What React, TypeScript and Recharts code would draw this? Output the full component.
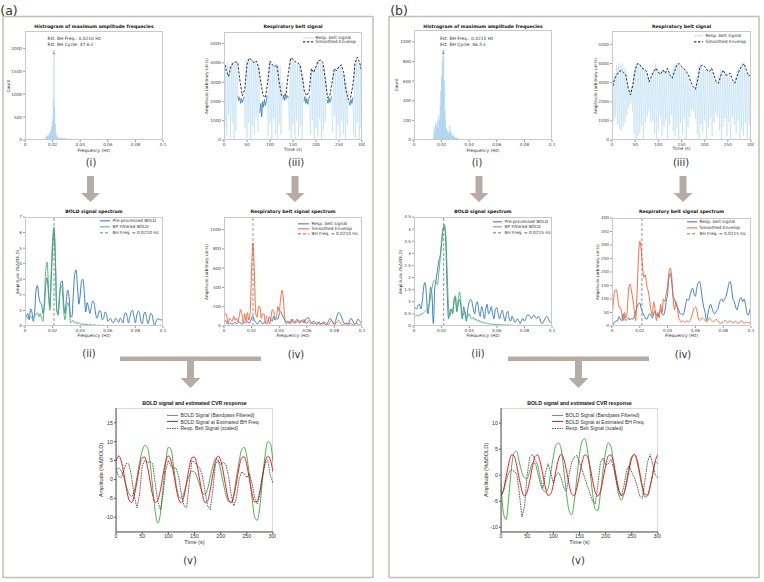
import React from "react";
import { LineChart, Line, BarChart, Bar, XAxis, YAxis, ReferenceLine } from "recharts";

const FONT = "'DejaVu Sans', Verdana, sans-serif";
const MFONT = "'Liberation Sans', Arial, sans-serif";

// ---------- shared ticks / grids ----------
const freqTicks = [0, 0.02, 0.04, 0.06, 0.08, 0.1];
const timeTicks = [0, 50, 100, 150, 200, 250, 300];
const beltTicks = [0, 1000, 2000, 3000, 4000, 5000];
const specFreq = Array.from({ length: 101 }, (_, i) => i / 1000);
const beltTime = Array.from({ length: 151 }, (_, i) => i * 2);
const envTime = Array.from({ length: 61 }, (_, i) => i * 5);

// ---------- (a) histogram ----------
const histBinsA = [0.015, 0.0155, 0.016, 0.0165, 0.017, 0.0175, 0.018, 0.0185, 0.019, 0.0195, 0.02, 0.0205, 0.021, 0.0215, 0.022, 0.0225, 0.023, 0.0235, 0.024, 0.0245, 0.025, 0.0255, 0.026, 0.0265, 0.027, 0.0275, 0.028, 0.0285, 0.029, 0.0295, 0.03, 0.0305, 0.031, 0.0315, 0.032];
const histCountsA = [30, 90, 60, 100, 80, 130, 150, 200, 230, 300, 450, 900, 1870, 720, 350, 150, 80, 60, 50, 40, 35, 40, 30, 45, 35, 30, 40, 30, 35, 25, 30, 25, 20, 15, 10];

// ---------- (b) histogram ----------
const histBinsB = [0.0145, 0.015, 0.0155, 0.016, 0.0165, 0.017, 0.0175, 0.018, 0.0185, 0.019, 0.0195, 0.02, 0.0205, 0.021, 0.0215, 0.022, 0.0225, 0.023, 0.0235, 0.024, 0.0245, 0.025, 0.0255, 0.026, 0.0265, 0.027, 0.0275, 0.028, 0.0285, 0.029, 0.0295, 0.03, 0.0305, 0.031, 0.0315, 0.032];
const histCountsB = [130, 60, 180, 100, 150, 200, 120, 250, 200, 350, 500, 650, 800, 910, 850, 600, 300, 200, 120, 80, 100, 60, 80, 150, 90, 70, 50, 40, 50, 35, 25, 20, 30, 15, 20, 10];

// ---------- respiratory belt signals (2 s samples) ----------
const beltA = [
  4000, 700, 3900, 200, 4050, 1300, 3850, 100, 4000, 900, 4050, 0, 3950, 500, 4100,
  2300, 2050, 2200, 1900, 2150, 1950, 2100, 2250,
  600, 4150, 100, 4250, 900, 4050, 0, 4100, 700, 4150, 300, 4050, 1200, 3950, 400, 3800,
  1400, 1900, 1200, 2000, 1700, 2100, 1800, 2000, 2300,
  200, 4100, 900, 3950, 0, 3900, 1100, 4000, 300, 3850, 100, 3900, 800, 3850, 300, 3000,
  2100, 2300, 2050, 2400, 2150, 2300, 2200,
  500, 4250, 100, 4200, 800, 4050, 0, 4000, 1000, 3950, 200, 3900, 700, 3800, 0, 3300,
  2000, 2250, 1900, 2150, 1850, 2100, 2300,
  300, 3700, 1000, 3500, 0, 3800, 600, 4100, 200, 4150, 1100, 4000, 0, 3950, 500, 3800, 900, 3200,
  2100, 1900, 2200, 1950, 2100, 2250,
  400, 3700, 1200, 3600, 0, 3800, 700, 3900, 100, 3850, 1000, 3500, 300, 3400, 0, 3000, 800, 2600,
  2000, 1800, 2100, 1900, 2200,
  300, 4000, 100, 4300, 900, 4050, 0, 3950, 600, 3500,
];
const holdsA: [number, number][] = [[30, 44], [78, 94], [128, 140], [174, 186], [224, 234], [272, 280]];
const beltB = [
  1500, 3400, 1000, 3500, 1200, 3900, 800, 4000, 600, 3900,
  500, 4000, 700, 3800, 900, 3700, 1300, 2900, 1700, 2500,
  1900, 2800, 1500, 3500, 300, 4000, 0, 4000, 200, 3950,
  400, 3900, 800, 3800, 0, 3700, 900, 3650, 1200, 3300,
  1500, 3100, 900, 3500, 1000, 3700, 300, 4000, 0, 3800,
  500, 3600, 1200, 3500, 200, 3700, 700, 3600, 1000, 3800,
  0, 3500, 800, 3300, 1300, 3700, 500, 3950, 200, 4000,
  600, 4050, 0, 3900, 900, 3800, 300, 3700, 1100, 3600,
  0, 3450, 700, 3200, 1200, 2900, 1600, 2700, 1500, 2650,
  1100, 3300, 300, 3900, 0, 4000, 800, 3900, 400, 3700,
  1000, 3650, 0, 3700, 600, 3600, 1200, 3800, 200, 3500,
  900, 3100, 1400, 3000, 1200, 3400, 500, 3700, 0, 3500,
  700, 3450, 1100, 3500, 200, 3400, 900, 3300, 0, 3100,
  1200, 3000, 800, 3300, 300, 3700, 1000, 3900, 0, 4000,
  500, 4050, 200, 3800, 900, 3500, 0, 3400, 800, 3300, 1200,
];
const envA = [4100, 3600, 3300, 3800, 4000, 4050, 4000, 3000, 2300, 2600, 3900, 4250, 4150, 4000, 4100, 3800, 3000, 2300, 2200, 3000, 4100, 3900, 3800, 3900, 3000, 2300, 2300, 2400, 3500, 4250, 4200, 4050, 4000, 3900, 3300, 2500, 2300, 2500, 3700, 3500, 3800, 4100, 4150, 4000, 3200, 2200, 2300, 3000, 3700, 3600, 3800, 3900, 3500, 2600, 2100, 2200, 2800, 4000, 4300, 4000, 3500];
const envB = [2620, 3140, 3400, 3580, 3630, 3520, 3400, 2700, 2360, 2880, 3660, 4000, 3950, 3750, 3700, 3580, 3050, 3320, 3580, 3750, 3520, 3450, 3660, 3490, 3750, 3400, 3230, 3580, 3920, 4000, 3840, 3750, 3580, 3400, 3050, 2790, 2650, 3140, 3840, 3920, 3840, 3660, 3580, 3750, 3400, 3050, 2970, 3400, 3660, 3400, 3400, 3490, 3140, 2970, 3320, 3660, 3840, 4000, 3660, 3350, 3400];

// ---------- BOLD spectra (0.001 Hz steps) ----------
const boldPreA = [
  0.9, 0.6, 0.8, 0.4, 1.1, 0.9, 0.3, 0.9, 2.3, 2.6,
  1.9, 1.5, 1.4, 0.8, 1.2, 2.6, 3.1, 2.1, 1.2, 3.0,
  5.0, 6.1, 4.2, 1.0, 0.7, 1.8, 2.8, 2.9, 1.5, 0.8,
  1.7, 2.3, 1.8, 0.6, 0.6, 2.0, 3.3, 3.6, 2.6, 1.4,
  2.0, 2.9, 3.0, 2.1, 0.9, 1.5, 1.2, 0.8, 1.2, 1.6,
  1.5, 0.9, 0.5, 0.7, 1.0, 0.9, 0.4, 0.5, 0.9, 0.8,
  0.3, 0.4, 0.5, 0.3, 0.2, 0.4, 0.5, 0.3, 0.25, 0.5,
  0.4, 0.2, 0.7, 0.85, 0.6, 0.2, 0.6, 0.9, 1.0, 0.6,
  0.2, 0.7, 0.95, 0.8, 0.3, 0.15, 0.7, 0.9, 0.6, 0.15,
  0.4, 0.8, 0.75, 0.3, 0.05, 0.3, 0.45, 0.45, 0.4, 0.4,
  0.45,
];
const boldBpA = [
  0.5, 0.5, 0.55, 0.5, 0.6, 0.5, 0.55, 0.6, 0.75, 0.85,
  0.6, 0.8, 0.5, 0.3, 1.6, 3.5, 4.1, 2.6, 1.0, 3.5,
  5.5, 6.35, 4.6, 1.0, 0.9, 2.0, 2.6, 2.4, 1.0, 0.4,
  1.1, 1.5, 1.2, 0.2, 0.3, 0.35, 0.2, 0.25, 0.15, 0.2,
  0.15, 0.1, 0.15, 0.08, 0.12, 0.1, 0.05, 0.1, 0.08, 0.04,
  0.08, 0.06, 0.03, 0.06, 0.05, 0.03, 0.05, 0.04, 0.02, 0.04,
  0.03, 0.02, 0.04, 0.03, 0.02, 0.03, 0.02, 0.01, 0.03, 0.02,
  0.01, 0.02, 0.02, 0.01, 0.02, 0.01, 0.01, 0.02, 0.01, 0.01,
  0.02, 0.01, 0.01, 0.02, 0.01, 0.01, 0.01, 0.02, 0.01, 0.01,
  0.01, 0.01, 0.02, 0.01, 0.01, 0.01, 0.01, 0.01, 0.01, 0.01,
  0.01,
];
const boldPreB = [
  0.6, 0.75, 0.7, 0.85, 0.9, 0.7, 1.0, 1.6, 1.8, 1.3,
  0.5, 0.9, 1.6, 1.3, 0.1, 1.5, 1.9, 2.3, 2.7, 2.9,
  3.4, 4.0, 4.1, 3.5, 1.5, 0.3, 0.6, 0.7, 0.5, 1.0,
  1.2, 0.6, 0.9, 1.1, 0.8, 0.3, 0.8, 0.5, 0.2, 0.7,
  1.0, 1.1, 1.0, 0.7, 0.5, 0.9, 1.0, 0.6, 0.4, 0.8,
  0.6, 0.3, 0.7, 0.9, 0.5, 0.6, 0.8, 0.5, 0.3, 0.7,
  0.75, 0.5, 0.3, 0.5, 0.65, 0.4, 0.2, 0.5, 0.6, 0.3,
  0.2, 0.4, 0.3, 0.15, 0.2, 0.3, 0.2, 0.1, 0.25, 0.3,
  0.2, 0.3, 0.45, 0.45, 0.4, 0.3, 0.4, 0.45, 0.35, 0.3,
  0.4, 0.35, 0.15, 0.1, 0.2, 0.3, 0.4, 0.35, 0.2, 0.15,
  0.2,
];
const boldBpB = [
  0.45, 0.43, 0.42, 0.43, 0.45, 0.47, 0.5, 0.55, 0.6, 0.65,
  0.75, 0.9, 1.2, 1.55, 1.8, 1.9, 1.8, 1.7, 2.2, 2.8,
  3.5, 4.0, 4.2, 3.8, 2.3, 0.8, 0.4, 0.7, 0.6, 1.1,
  1.25, 0.6, 1.1, 1.4, 1.0, 0.4, 0.5, 0.6, 0.3, 0.4,
  0.5, 0.35, 0.3, 0.35, 0.25, 0.3, 0.2, 0.25, 0.15, 0.2,
  0.12, 0.15, 0.1, 0.12, 0.08, 0.1, 0.07, 0.08, 0.06, 0.07,
  0.05, 0.06, 0.05, 0.04, 0.05, 0.04, 0.04, 0.03, 0.04, 0.03,
  0.03, 0.03, 0.02, 0.03, 0.02, 0.02, 0.02, 0.02, 0.02, 0.02,
  0.02, 0.02, 0.01, 0.02, 0.01, 0.01, 0.01, 0.01, 0.01, 0.01,
  0.01, 0.01, 0.01, 0.01, 0.01, 0.01, 0.01, 0.01, 0.01, 0.01,
  0.01,
];

// ---------- respiratory belt spectra ----------
const respSigA = [
  20, 60, 30, 20, 30, 25, 20, 30, 35, 25,
  30, 40, 30, 20, 30, 40, 30, 50, 30, 40,
  80, 100, 60, 40, 20, 30, 60, 40, 20, 40,
  30, 20, 60, 90, 70, 50, 100, 60, 80, 70,
  120, 150, 120, 90, 60, 40, 50, 30, 40, 70,
  40, 30, 50, 70, 40, 30, 60, 50, 30, 60,
  80, 90, 60, 40, 30, 50, 40, 20, 30, 40,
  20, 30, 40, 20, 10, 30, 60, 80, 60, 40,
  20, 60, 110, 140, 130, 100, 60, 30, 20, 30,
  20, 50, 80, 60, 30, 20, 40, 70, 60, 40,
  50,
];
const respEnvA = [
  50, 130, 100, 30, 80, 60, 50, 100, 60, 80,
  40, 100, 170, 120, 30, 130, 50, 140, 60, 150,
  600, 860, 560, 130, 90, 200, 200, 80, 130, 120,
  30, 100, 90, 20, 80, 170, 150, 80, 100, 200,
  150, 280, 370, 280, 80, 20, 30, 50, 20, 50,
  70, 40, 30, 50, 60, 40, 60, 40, 70, 30,
  30, 50, 40, 20, 40, 20, 30, 20, 40, 20,
  10, 30, 20, 40, 30, 10, 20, 40, 60, 30,
  10, 30, 40, 60, 40, 20, 10, 20, 30, 20,
  10, 20, 30, 15, 10, 20, 30, 20, 10, 20,
  25,
];
const respSigB = [
  0, 8, 15, 20, 18, 35, 25, 20, 45, 30,
  20, 25, 30, 22, 28, 25, 35, 50, 70, 82,
  85, 65, 50, 40, 30, 25, 35, 45, 40, 30,
  45, 55, 40, 35, 50, 60, 45, 40, 55, 90,
  120, 180, 195, 160, 110, 100, 80, 70, 60, 45,
  45, 40, 55, 80, 100, 95, 110, 130, 140, 120,
  110, 140, 160, 165, 140, 100, 70, 50, 20, 45,
  70, 80, 65, 50, 45, 55, 60, 80, 95, 100,
  90, 100, 110, 130, 155, 165, 140, 100, 90, 70,
  60, 80, 100, 105, 90, 100, 80, 50, 40, 55,
  75,
];
const respEnvB = [
  20, 90, 130, 135, 110, 70, 70, 45, 20, 50,
  30, 60, 140, 155, 130, 100, 60, 20, 120, 250,
  315, 280, 220, 180, 190, 150, 130, 100, 60, 40,
  90, 60, 20, 50, 30, 80, 50, 100, 90, 120,
  150, 200, 215, 180, 100, 60, 90, 70, 30, 20,
  15, 20, 15, 15, 20, 15, 20, 30, 50, 65,
  70, 60, 30, 20, 25, 30, 25, 20, 15, 20,
  30, 25, 20, 15, 20, 25, 20, 15, 10, 12,
  15, 20, 18, 12, 15, 20, 15, 10, 15, 18,
  12, 10, 15, 20, 15, 10, 12, 15, 10, 12,
  10,
];

// ---------- BOLD signal vs estimated CVR response (5 s samples) ----------
const cvrGreenA = [2.5, 3.0, 2.3, 0.5, -2.0, -3.8, -4.5, -3.0, 0.5, 4.5, 7.5, 9.0, 8.5, 4.5, -2.0, -8.5, -11.5, -9.0, -2.0, 4.5, 8.5, 8.0, 3.5, -1.5, -4.5, -5.0, -3.5, -1.0, 1.0, 2.2, 2.0, 0.5, -1.5, -3.5, -4.0, -2.5, 0.5, 3.5, 5.5, 5.0, 2.5, -1.0, -4.0, -5.8, -6.0, -4.0, 0.5, 4.5, 7.8, 8.5, 6.0, 1.0, -5.0, -10.0, -10.8, -7.0, 0.0, 6.5, 10.0, 9.5, 4.5];
const cvrRedA = [4.9, 6.2, 4.9, 1.6, -2.5, -5.4, -6.1, -4.2, -0.6, 3.3, 5.8, 5.9, 3.5, -0.4, -4.1, -6.1, -5.5, -2.7, 1.3, 4.8, 6.2, 5.0, 1.7, -2.3, -5.3, -6.2, -4.4, -0.7, 3.2, 5.8, 5.9, 3.7, -0.2, -3.9, -6.1, -5.7, -2.8, 1.2, 4.7, 6.2, 5.1, 1.9, -2.1, -5.3, -6.2, -4.5, -0.9, 3.0, 5.7, 6.0, 3.8, 0.0, -3.8, -6.0, -5.7, -3.0, 1.0, 4.5, 6.2, 5.2, 2.0];
const cvrBeltA = [2.8, 0.8, 0.5, 2.5, 4.3, 4.0, 0.5, -4.5, -7.5, -4.0, 3.5, 5.0, 4.5, 4.7, 4.2, -1.0, -6.0, -8.0, -4.0, 2.5, 5.0, 3.5, 3.0, 3.0, 0.5, -4.0, -7.0, -7.5, -1.0, 5.0, 4.5, 3.8, 3.0, 1.0, -3.0, -7.0, -8.0, -3.0, 4.0, 5.0, 4.0, 4.5, 4.0, 1.0, -4.0, -7.0, -5.0, 0.0, 2.0, 1.5, 0.5, 1.5, -1.0, -5.0, -6.5, -4.0, 1.0, 4.5, 5.0, 1.0, -1.0];
const cvrGreenB = [-1.5, -7.5, -8.5, -4.0, 1.5, 4.3, 4.6, 2.5, 0.5, -0.5, -0.6, 0.8, 2.3, 2.3, 0.5, -1.5, -2.8, -3.2, -2.5, 0.5, 3.5, 5.8, 6.2, 5.0, 1.0, -3.5, -6.8, -7.6, -5.0, -0.5, 4.0, 6.5, 7.0, 5.0, 1.0, -3.5, -6.5, -6.8, -3.5, 1.0, 4.5, 6.2, 5.5, 2.5, -1.0, -3.8, -4.8, -3.5, -1.0, 1.8, 3.6, 4.0, 2.5, 0.0, -2.5, -4.2, -4.0, -2.0, 0.3, 2.5, 2.2];
const cvrRedB = [-3.9, -2.7, -0.2, 2.3, 3.9, 3.7, 1.9, -0.75, -3.0, -4.0, -3.2, -1.0, 1.6, 3.6, 3.9, 2.5, 0.1, -2.4, -3.9, -3.6, -1.8, 0.9, 3.1, 4.0, 3.1, 0.9, -1.7, -3.6, -3.9, -2.4, 0.0, 2.5, 3.9, 3.6, 1.7, -1.0, -3.2, -4.0, -3.1, -0.8, 1.9, 3.7, 3.9, 2.4, -0.2, -2.7, -3.9, -3.5, -1.5, 1.1, 3.3, 4.0, 3.0, 0.6, -2.0, -3.7, -3.8, -2.2, 0.3, 2.8, 4.0];
const cvrBeltB = [-4.0, -3.0, -1.0, 0.5, 1.0, 0.8, 0.3, -3.5, -8.0, -6.0, 0.0, 3.5, 4.0, 3.0, 2.0, -0.5, -2.5, 0.5, 2.2, 0.5, -1.5, 0.0, 0.5, -0.5, -2.5, -3.0, 0.0, 2.5, 3.5, 3.8, 2.5, 1.0, -0.5, -2.0, -3.5, -5.0, -5.5, -2.0, 2.5, 3.3, 2.0, 2.2, 3.0, 1.5, -1.0, -3.0, -4.0, -2.0, 1.0, 1.8, 0.5, -0.5, -2.0, -4.0, -4.5, -1.0, 2.5, 4.0, 2.0, 0.0, -0.5];

// ---------- colours ----------
const C = {
  blue: "#2f73b7",
  green: "#45b165",
  orange: "#f0602e",
  beltLight: "#a9d4f0",
  beltDark: "#2d74b5",
  histFill: "#b8dcf3",
  histEdge: "#8fc0e4",
  cvrGreen: "#4cb050",
  cvrRed: "#ec1c2c",
  cvrBlack: "#333",
  frame: "#c4bdb8",
  arrow: "#b7aca5",
};

// ---------- layout helpers ----------
type Rect = { l: number; t: number; r: number; b: number };
const YW = 40;
const XH = 30;
const PAD = 3;

function geom(rc: Rect) {
  return {
    style: { position: "absolute" as const, left: rc.l - YW, top: rc.t - PAD },
    width: rc.r - rc.l + YW + PAD,
    height: rc.b - rc.t + PAD + XH,
    margin: { top: PAD, right: PAD, bottom: 0, left: 0 },
  };
}

function Txt(props: { x: number; y: number; size?: number; bold?: boolean; rotate?: number; anchor?: string; font?: string; color?: string; children: React.ReactNode }) {
  const { x, y, size = 4.4, bold, rotate, anchor = "middle", font = FONT, color = "#333" } = props;
  const tx = anchor === "middle" ? "-50%" : anchor === "start" ? "0%" : "-100%";
  return (
    <div
      style={{
        position: "absolute",
        left: x,
        top: y,
        transform: `translate(${tx}, -50%)${rotate ? ` rotate(${rotate}deg)` : ""}`,
        fontFamily: font,
        fontSize: size,
        fontWeight: bold ? 700 : 400,
        lineHeight: 1,
        whiteSpace: "nowrap",
        color,
      }}
    >
      {props.children}
    </div>
  );
}

type LegItem = { label: string; color: string; dash?: string; w?: number };
function Legend(props: { x: number; y: number; gap: number; size: number; lineW: number; items: LegItem[]; font?: string }) {
  const { x, y, gap, size, lineW, items, font = FONT } = props;
  return (
    <div style={{ position: "absolute", left: x, top: y, fontFamily: font, fontSize: size, color: "#333", lineHeight: 1 }}>
      {items.map((it, i) => (
        <div key={i} style={{ position: "absolute", left: 0, top: i * gap, display: "flex", alignItems: "center", whiteSpace: "nowrap", transform: "translateY(-50%)" }}>
          <svg width={lineW} height={4} style={{ display: "block" }}>
            <line x1={0} y1={2} x2={lineW} y2={2} stroke={it.color} strokeWidth={it.w ?? 1} strokeDasharray={it.dash} />
          </svg>
          <span style={{ marginLeft: 2.5 }}>{it.label}</span>
        </div>
      ))}
    </div>
  );
}

function Box({ rc, color = "#c9c9c9" }: { rc: Rect; color?: string }) {
  return (
    <div
      style={{
        position: "absolute",
        left: rc.l,
        top: rc.t,
        width: rc.r - rc.l,
        height: rc.b - rc.t,
        border: `1px solid ${color}`,
        boxSizing: "border-box",
        pointerEvents: "none",
      }}
    />
  );
}

const fmtFreq = (v: number) => (v === 0 ? "0" : v === 0.1 ? "0.1" : v.toFixed(2));
const tickSmall = { fontSize: 4.2, fill: "#444", fontFamily: FONT };
const tickCvr = { fontSize: 5.3, fill: "#333", fontFamily: MFONT };

const freqAxis = {
  type: "number" as const,
  dataKey: "x",
  domain: [0, 0.1],
  ticks: freqTicks,
  tickFormatter: fmtFreq,
  interval: 0 as const,
  height: XH,
  axisLine: false,
  tickSize: 2,
  tickMargin: 1,
  tick: tickSmall,
  tickLine: { stroke: "#999" },
  allowDataOverflow: true,
};
const timeAxis = { ...freqAxis, domain: [0, 300], ticks: timeTicks, tickFormatter: (v: number) => String(v) };
const smallY = {
  type: "number" as const,
  width: YW,
  axisLine: false,
  tickSize: 2,
  tickMargin: 1,
  tick: tickSmall,
  tickLine: { stroke: "#999" },
  interval: 0 as const,
  allowDataOverflow: true,
};

// ---------- plot components ----------
function HistPlot(p: { rc: Rect; bins: number[]; counts: number[]; yMax: number; yTicks: number[]; bhLabel: string; cycleLabel: string; noteX: number; peakF: number }) {
  const g = geom(p.rc);
  const data = p.bins.map((x, i) => ({ x, c: p.counts[i] }));
  const peakX = p.rc.l + (p.peakF / 0.1) * (p.rc.r - p.rc.l);
  return (
    <>
      <div style={g.style}>
        <BarChart width={g.width} height={g.height} data={data} margin={g.margin}>
          <XAxis {...freqAxis} />
          <YAxis {...smallY} domain={[0, p.yMax]} ticks={p.yTicks} />
          <Bar dataKey="c" fill={C.histFill} stroke={C.histEdge} strokeWidth={0.2} barSize={1.3} isAnimationActive={false} />
        </BarChart>
      </div>
      <Box rc={p.rc} />
      <Txt x={p.noteX} y={39} anchor="start" size={4.4}>{p.bhLabel}</Txt>
      <Txt x={p.noteX} y={44.5} anchor="start" size={4.4}>{p.cycleLabel}</Txt>
      <Txt x={peakX} y={51.5} size={5}>↓</Txt>
    </>
  );
}

function BeltPlot(p: { rc: Rect; signal: number[]; envelope: number[]; holds?: [number, number][]; yMax: number }) {
  const g = geom(p.rc);
  const sig = beltTime.map((x, i) => ({ x, v: p.signal[i] }));
  const env = envTime.map((x, i) => ({ x, e: p.envelope[i] }));
  const holds = p.holds;
  const dark = holds
    ? sig.map((s) => ({ x: s.x, d: holds.some(([a, b]) => s.x >= a && s.x <= b) ? s.v : null }))
    : null;
  return (
    <>
      <div style={g.style}>
        <LineChart width={g.width} height={g.height} margin={g.margin}>
          <XAxis {...timeAxis} />
          <YAxis {...smallY} domain={[0, p.yMax]} ticks={beltTicks} />
          <Line data={sig} dataKey="v" type="linear" stroke={C.beltLight} strokeWidth={0.45} dot={false} isAnimationActive={false} />
          {dark && (
            <Line data={dark} dataKey="d" type="linear" stroke={C.beltDark} strokeWidth={0.7} dot={false} connectNulls={false} isAnimationActive={false} />
          )}
          <Line data={env} dataKey="e" type="linear" stroke="#1a1a1a" strokeWidth={0.9} strokeDasharray="2.4 1.6" dot={false} isAnimationActive={false} />
        </LineChart>
      </div>
      <Box rc={p.rc} />
    </>
  );
}

type SpecLine = { key: string; color: string; values: number[] };
function SpecPlot(p: { rc: Rect; lines: SpecLine[]; yMax: number; yTicks: number[]; bh: number }) {
  const g = geom(p.rc);
  const data = specFreq.map((x, i) => {
    const r: Record<string, number> = { x };
    p.lines.forEach((l) => (r[l.key] = l.values[i]));
    return r;
  });
  return (
    <>
      <div style={g.style}>
        <LineChart width={g.width} height={g.height} data={data} margin={g.margin}>
          <XAxis {...freqAxis} />
          <YAxis {...smallY} domain={[0, p.yMax]} ticks={p.yTicks} />
          {p.lines.map((l) => (
            <Line key={l.key} dataKey={l.key} type="monotone" stroke={l.color} strokeWidth={0.9} dot={false} isAnimationActive={false} />
          ))}
          <ReferenceLine x={p.bh} stroke="#777" strokeWidth={0.8} strokeDasharray="3 2" />
        </LineChart>
      </div>
      <Box rc={p.rc} />
    </>
  );
}

function CvrPlot(p: { rc: Rect; green: number[]; red: number[]; belt: number[]; yDomain: [number, number]; yTicks: number[] }) {
  const g = geom(p.rc);
  const data = envTime.map((x, i) => ({ x, g: p.green[i], r: p.red[i], k: p.belt[i] }));
  return (
    <>
      <Box rc={p.rc} color="#dadada" />
      <div style={g.style}>
        <LineChart width={g.width} height={g.height} data={data} margin={g.margin}>
          <XAxis
            {...timeAxis}
            tick={tickCvr}
            axisLine={{ stroke: "#555" }}
            tickLine={{ stroke: "#555" }}
            tickSize={2}
            tickMargin={0.5}
          />
          <YAxis
            {...smallY}
            domain={p.yDomain}
            ticks={p.yTicks}
            tick={tickCvr}
            axisLine={{ stroke: "#555" }}
            tickLine={{ stroke: "#555" }}
          />
          <Line dataKey="g" type="monotone" stroke={C.cvrGreen} strokeWidth={1} dot={false} isAnimationActive={false} />
          <Line dataKey="r" type="monotone" stroke={C.cvrRed} strokeWidth={1} dot={false} isAnimationActive={false} />
          <Line dataKey="k" type="linear" stroke={C.cvrBlack} strokeWidth={0.8} strokeDasharray="1.6 0.9" dot={false} isAnimationActive={false} />
        </LineChart>
      </div>
    </>
  );
}

// ---------- plot rectangles ----------
const A_HIST: Rect = { l: 25, t: 31, r: 163, b: 140 };
const A_BELT: Rect = { l: 224, t: 32, r: 362, b: 140 };
const A_BOLD: Rect = { l: 25, t: 217, r: 163, b: 326 };
const A_RESP: Rect = { l: 224, t: 217, r: 362, b: 326 };
const A_CVR: Rect = { l: 116, t: 408, r: 273, b: 532 };
const B_HIST: Rect = { l: 414, t: 30, r: 552, b: 140 };
const B_BELT: Rect = { l: 612, t: 31, r: 751, b: 140 };
const B_BOLD: Rect = { l: 414, t: 217, r: 552, b: 326 };
const B_RESP: Rect = { l: 612, t: 218, r: 751, b: 326 };
const B_CVR: Rect = { l: 501, t: 408, r: 658, b: 532 };

const mid = (rc: Rect) => (rc.l + rc.r) / 2;
const vmid = (rc: Rect) => (rc.t + rc.b) / 2;

function arrowPts(cx: number, y0: number, y1: number, shaft = 7, head = 19, headH = 9) {
  const s = shaft / 2;
  const h = head / 2;
  const yh = y1 - headH;
  return `${cx - s},${y0} ${cx + s},${y0} ${cx + s},${yh} ${cx + h},${yh} ${cx},${y1} ${cx - h},${yh} ${cx - s},${yh}`;
}

function Panel(p: { bx: number; arrows: number[]; barL: number; barR: number; stem: number }) {
  return (
    <g>
      <rect x={p.bx} y={16.5} width={370} height={561} fill="none" stroke={C.frame} strokeWidth={1.5} />
      <polygon points={arrowPts(p.arrows[0], 176, 202)} fill={C.arrow} />
      <polygon points={arrowPts(p.arrows[1], 176, 202)} fill={C.arrow} />
      <rect x={p.barL} y={356.5} width={p.barR - p.barL} height={4.5} fill={C.arrow} />
      <polygon points={arrowPts(p.stem, 360, 388, 7, 20, 10)} fill={C.arrow} />
    </g>
  );
}

const legBelt: LegItem[] = [
  { label: "Resp. belt signal", color: C.beltLight, w: 0.8 },
  { label: "Smoothed Envelop", color: "#111", dash: "2.4 1.6", w: 1 },
];

export default function App() {
  return (
    <div style={{ position: "absolute", left: 0, top: 0, width: 764, height: 582, background: "#fff", overflow: "hidden" }}>
      <svg width={764} height={582} style={{ position: "absolute", left: 0, top: 0 }}>
        <Panel bx={3} arrows={[90.5, 295]} barL={120} barR={261} stem={190.5} />
        <Panel bx={389} arrows={[479, 683]} barL={508} barR={649} stem={578.5} />
      </svg>

      <Txt x={9} y={10.5} size={12.5}>(a)</Txt>
      <Txt x={399} y={10.5} size={12.5}>(b)</Txt>

      {/* ===== panel (a) ===== */}
      <HistPlot rc={A_HIST} bins={histBinsA} counts={histCountsA} yMax={2380} yTicks={[0, 500, 1000, 1500, 2000]}
        bhLabel="Est. BH Freq.: 0.0210 Hz" cycleLabel="Est. BH Cycle: 47.6 s" noteX={47.5} peakF={0.021} />
      <Txt x={mid(A_HIST)} y={27} size={4.6} bold color="#111">Histrogram of maximum amplitude frequecies</Txt>
      <Txt x={mid(A_HIST)} y={151} size={4.4}>Frequency (Hz)</Txt>
      <Txt x={8.5} y={vmid(A_HIST)} size={4.4} rotate={-90}>Count</Txt>

      <BeltPlot rc={A_BELT} signal={beltA} envelope={envA} holds={holdsA} yMax={5600} />
      <Txt x={mid(A_BELT)} y={27} size={4.6} bold color="#111">Respiratory belt signal</Txt>
      <Txt x={mid(A_BELT)} y={150} size={4.4}>Time (s)</Txt>
      <Txt x={207} y={vmid(A_BELT)} size={4.2} rotate={-90}>Amplitude (arbitrary units)</Txt>
      <Legend x={303} y={37.7} gap={4.6} size={4.3} lineW={10} items={legBelt} />

      <SpecPlot rc={A_BOLD} yMax={7} yTicks={[0, 1, 2, 3, 4, 5, 6, 7]} bh={0.021}
        lines={[{ key: "pre", color: C.blue, values: boldPreA }, { key: "bp", color: C.green, values: boldBpA }]} />
      <Txt x={mid(A_BOLD)} y={212.3} size={4.6} bold color="#111">BOLD signal spectrum</Txt>
      <Txt x={mid(A_BOLD)} y={336} size={4.4}>Frequency (Hz)</Txt>
      <Txt x={18} y={vmid(A_BOLD)} size={4.2} rotate={-90}>Amplitude (%ΔBOLD)</Txt>
      <Legend x={100} y={221} gap={5.8} size={4.3} lineW={10} items={[
        { label: "Pre-processed BOLD", color: C.blue },
        { label: "BP Filtered BOLD", color: C.green },
        { label: "BH Freq. = 0.0210 Hz", color: "#777", dash: "3 2" },
      ]} />

      <SpecPlot rc={A_RESP} yMax={1130} yTicks={[0, 200, 400, 600, 800, 1000]} bh={0.021}
        lines={[{ key: "sig", color: C.blue, values: respSigA }, { key: "env", color: C.orange, values: respEnvA }]} />
      <Txt x={mid(A_RESP)} y={212.3} size={4.6} bold color="#111">Respiratory belt signal spectrum</Txt>
      <Txt x={mid(A_RESP)} y={336} size={4.4}>Frequency (Hz)</Txt>
      <Txt x={207} y={vmid(A_RESP)} size={4.2} rotate={-90}>Amplitude (arbitrary units)</Txt>
      <Legend x={298} y={223.7} gap={5.2} size={4.3} lineW={11} items={[
        { label: "Resp. belt signal", color: C.blue },
        { label: "Smoothed Envelop", color: C.orange },
        { label: "BH Freq. = 0.0210 Hz", color: "#777", dash: "3 2" },
      ]} />

      <CvrPlot rc={A_CVR} green={cvrGreenA} red={cvrRedA} belt={cvrBeltA} yDomain={[-13.9, 18.9]} yTicks={[-10, -5, 0, 5, 10, 15]} />
      <Txt x={mid(A_CVR)} y={404.3} size={5.2} bold color="#111" font={MFONT}>BOLD signal and estimated CVR response</Txt>
      <Txt x={mid(A_CVR)} y={543} size={5.6} font={MFONT}>Time (s)</Txt>
      <Txt x={102} y={vmid(A_CVR)} size={5.6} rotate={-90} font={MFONT}>Amplitude (%ΔBOLD)</Txt>
      <Legend x={167} y={415} gap={6.7} size={5} lineW={11} font={MFONT} items={[
        { label: "BOLD Signal (Bandpass Filtered)", color: C.cvrGreen },
        { label: "BOLD Signal at Estimated BH Freq.", color: C.cvrRed },
        { label: "Resp. Belt Signal (scaled)", color: C.cvrBlack, dash: "1.6 0.9", w: 0.8 },
      ]} />

      <Txt x={91} y={163} size={10}>(i)</Txt>
      <Txt x={296} y={163} size={10}>(iii)</Txt>
      <Txt x={89} y={354} size={10}>(ii)</Txt>
      <Txt x={296} y={355} size={10}>(iv)</Txt>
      <Txt x={190} y={561} size={10}>(v)</Txt>

      {/* ===== panel (b) ===== */}
      <HistPlot rc={B_HIST} bins={histBinsB} counts={histCountsB} yMax={1120} yTicks={[0, 200, 400, 600, 800, 1000]}
        bhLabel="Est. BH Freq.: 0.0215 Hz" cycleLabel="Est. BH Cycle: 46.5 s" noteX={440} peakF={0.0213} />
      <Txt x={mid(B_HIST)} y={27} size={4.6} bold color="#111">Histrogram of maximum amplitude frequecies</Txt>
      <Txt x={mid(B_HIST)} y={150.7} size={4.4}>Frequency (Hz)</Txt>
      <Txt x={397} y={vmid(B_HIST)} size={4.4} rotate={-90}>Count</Txt>

      <BeltPlot rc={B_BELT} signal={beltB} envelope={envB} yMax={5700} />
      <Txt x={mid(B_BELT)} y={26.5} size={4.6} bold color="#111">Respiratory belt signal</Txt>
      <Txt x={mid(B_BELT)} y={149} size={4.4}>Time (s)</Txt>
      <Txt x={596} y={vmid(B_BELT)} size={4.2} rotate={-90}>Amplitude (arbitrary units)</Txt>
      <Legend x={694} y={35.5} gap={6} size={4.3} lineW={9} items={legBelt} />

      <SpecPlot rc={B_BOLD} yMax={4.5} yTicks={[0, 0.5, 1, 1.5, 2, 2.5, 3, 3.5, 4, 4.5]} bh={0.0215}
        lines={[{ key: "pre", color: C.blue, values: boldPreB }, { key: "bp", color: C.green, values: boldBpB }]} />
      <Txt x={mid(B_BOLD)} y={212.3} size={4.6} bold color="#111">BOLD signal spectrum</Txt>
      <Txt x={mid(B_BOLD)} y={335.7} size={4.4}>Frequency (Hz)</Txt>
      <Txt x={401} y={vmid(B_BOLD)} size={4.2} rotate={-90}>Amplitude (%ΔBOLD)</Txt>
      <Legend x={493} y={221.7} gap={5.5} size={4.3} lineW={9} items={[
        { label: "Pre-processed BOLD", color: C.blue },
        { label: "BP Filtered BOLD", color: C.green },
        { label: "BH Freq. = 0.0215 Hz", color: "#777", dash: "3 2" },
      ]} />

      <SpecPlot rc={B_RESP} yMax={400} yTicks={[0, 50, 100, 150, 200, 250, 300, 350, 400]} bh={0.0215}
        lines={[{ key: "sig", color: C.blue, values: respSigB }, { key: "env", color: C.orange, values: respEnvB }]} />
      <Txt x={mid(B_RESP)} y={212.3} size={4.6} bold color="#111">Respiratory belt signal spectrum</Txt>
      <Txt x={mid(B_RESP)} y={335.7} size={4.4}>Frequency (Hz)</Txt>
      <Txt x={598} y={vmid(B_RESP)} size={4.2} rotate={-90}>Amplitude (arbitrary units)</Txt>
      <Legend x={687} y={222.3} gap={5.8} size={4.3} lineW={10} items={[
        { label: "Resp. belt signal", color: C.blue },
        { label: "Smoothed Envelop", color: C.orange },
        { label: "BH Freq. = 0.0215 Hz", color: "#777", dash: "3 2" },
      ]} />

      <CvrPlot rc={B_CVR} green={cvrGreenB} red={cvrRedB} belt={cvrBeltB} yDomain={[-10.9, 12.9]} yTicks={[-10, -5, 0, 5, 10]} />
      <Txt x={mid(B_CVR)} y={404.3} size={5.2} bold color="#111" font={MFONT}>BOLD signal and estimated CVR response</Txt>
      <Txt x={mid(B_CVR)} y={543} size={5.6} font={MFONT}>Time (s)</Txt>
      <Txt x={487} y={vmid(B_CVR)} size={5.6} rotate={-90} font={MFONT}>Amplitude (%ΔBOLD)</Txt>
      <Legend x={552} y={415} gap={6.7} size={5} lineW={11} font={MFONT} items={[
        { label: "BOLD Signal (Bandpass Filtered)", color: C.cvrGreen },
        { label: "BOLD Signal at Estimated BH Freq.", color: C.cvrRed },
        { label: "Resp. Belt Signal (scaled)", color: C.cvrBlack, dash: "1.6 0.9", w: 0.8 },
      ]} />

      <Txt x={477} y={163} size={10}>(i)</Txt>
      <Txt x={681} y={163} size={10}>(iii)</Txt>
      <Txt x={478} y={354} size={10}>(ii)</Txt>
      <Txt x={683} y={355} size={10}>(iv)</Txt>
      <Txt x={578} y={561} size={10}>(v)</Txt>
    </div>
  );
}
